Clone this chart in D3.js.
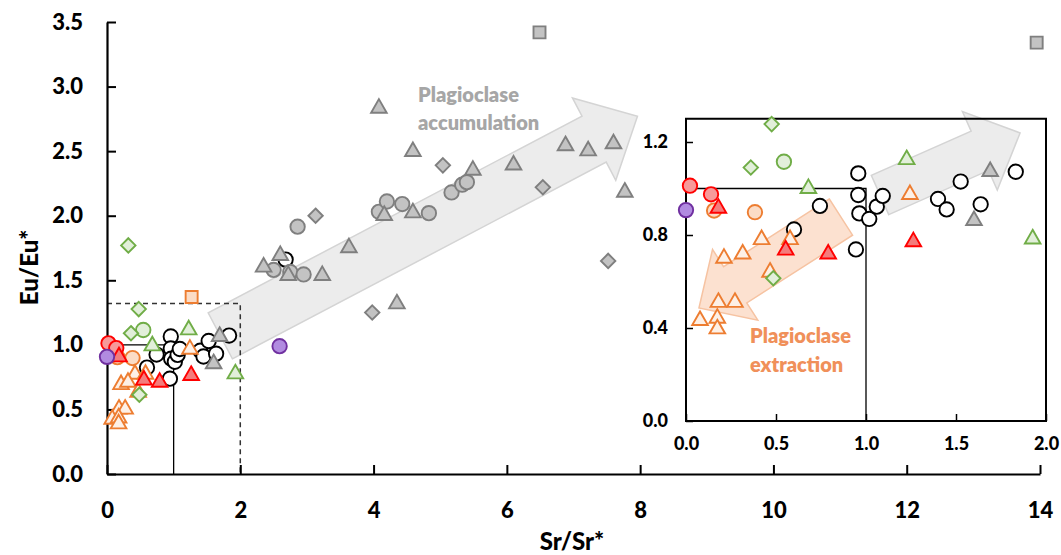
<!DOCTYPE html>
<html>
<head>
<meta charset="utf-8">
<script src="https://cdn.jsdelivr.net/npm/d3@7"></script>
<style>
  body { margin: 0; background: #fff; }
  svg { display: block; }
  text { font-family: Lato, "Open Sans", sans-serif; font-weight: 700; }
</style>
</head>
<body>
<svg id="chart" width="1061" height="555"></svg>
<script>
// ---- Sr/Sr* vs Eu/Eu* samples, one array per marker group: [Sr/Sr*, Eu/Eu*] ----
const grayTriangles = [
  [1.60, 0.872], [1.69, 1.083], [2.35, 1.62], [2.60, 1.71], [2.72, 1.555], [3.23, 1.555],
  [3.63, 1.77], [4.35, 1.335], [4.08, 2.85], [4.16, 2.02], [4.59, 2.04], [4.59, 2.515],
  [5.49, 2.37], [6.10, 2.41], [6.88, 2.56], [7.22, 2.52], [7.60, 2.575], [7.77, 2.20]
];
const grayCircles = [
  [2.50, 1.58], [2.75, 1.565], [2.95, 1.545], [2.86, 1.915], [4.08, 2.03], [4.20, 2.11],
  [4.43, 2.09], [4.83, 2.02], [5.17, 2.18], [5.33, 2.24], [5.40, 2.26]
];
const grayDiamonds = [[3.13, 2.0], [3.98, 1.25], [5.04, 2.39], [6.54, 2.22], [7.52, 1.65]];
const graySquares = [[6.49, 3.42], [13.95, 3.34]];
const blackCircles = [
  [0.60, 0.824], [0.744, 0.925], [0.944, 0.738], [0.957, 1.065], [0.957, 0.972], [0.963, 0.893],
  [1.018, 0.869], [1.06, 0.922], [1.093, 0.968], [1.40, 0.955], [1.448, 0.91], [1.526, 1.03],
  [1.637, 0.932], [1.832, 1.072], [2.68, 1.66]
];
const orangeTriangles = [
  [1.244, 0.984], [0.42, 0.79], [0.578, 0.79], [0.211, 0.71], [0.315, 0.728], [0.467, 0.65],
  [0.18, 0.52], [0.272, 0.52], [0.078, 0.442], [0.174, 0.452], [0.174, 0.406]
];
const orangeCircles = [[0.156, 0.905], [0.383, 0.898]];
const orangeSquares = [[1.27, 1.37]];
const greenTriangles = [[0.68, 1.01], [1.226, 1.134], [1.926, 0.793]];
const greenDiamonds = [[0.476, 1.277], [0.36, 1.09], [0.485, 0.614], [0.32, 1.77]];
const greenCircles = [[0.544, 1.115]];
const redTriangles = [[0.18, 0.925], [0.554, 0.745], [0.79, 0.728], [1.263, 0.781]];
const redCircles = [[0.022, 1.012], [0.139, 0.975]];
const purpleCircles = [[0.0, 0.907], [2.59, 0.99]];

// axis ticks
const mainXTicks = [0, 2, 4, 6, 8, 10, 12, 14];
const mainYTicks = [0.0, 0.5, 1.0, 1.5, 2.0, 2.5, 3.0, 3.5];
const insetXTicks = [0.0, 0.5, 1.0, 1.5, 2.0];
const insetYTicks = [0.0, 0.4, 0.8, 1.2];

// marker groups in drawing order
const GRAY = { fill: "#c3c3c3", stroke: "#7f7f7f" };
const series = [
  { data: blackCircles, shape: "circle", fill: "#ffffff", stroke: "#000000" },
  { data: grayCircles, shape: "circle", ...GRAY },
  { data: grayDiamonds, shape: "diamond", ...GRAY },
  { data: graySquares, shape: "square", ...GRAY },
  { data: grayTriangles, shape: "triangle", ...GRAY },
  { data: orangeCircles, shape: "circle", fill: "#fbdcc6", stroke: "#ed7d31" },
  { data: orangeSquares, shape: "square", fill: "#fbdcc6", stroke: "#ed7d31" },
  { data: orangeTriangles, shape: "triangle", fill: "#fdf0e6", stroke: "#ed7d31" },
  { data: greenCircles, shape: "circle", fill: "#e2efda", stroke: "#70ad47" },
  { data: greenDiamonds, shape: "diamond", fill: "#e2efda", stroke: "#70ad47" },
  { data: greenTriangles, shape: "triangle", fill: "#e2efda", stroke: "#70ad47" },
  { data: redCircles, shape: "circle", fill: "#f79a9a", stroke: "#ff0000" },
  { data: redTriangles, shape: "triangle", fill: "#f47c7c", stroke: "#ff0000" },
  { data: purpleCircles, shape: "circle", fill: "#b18be0", stroke: "#7030a0" }
];

const svg = d3.select("#chart");

// ---- scales ----
const x = d3.scaleLinear().domain([0, 14]).range([107, 1040]);
const y = d3.scaleLinear().domain([0, 3.5]).range([474, 22]);
const xi = d3.scaleLinear().domain([0, 2]).range([686, 1046]);
const yi = d3.scaleLinear().domain([0, 1.3]).range([421, 118.75]);

// marker path centred on (0,0)
function markerPath(shape) {
  switch (shape) {
    case "circle": return "M7.2,0A7.2,7.2 0 1,1 -7.2,0A7.2,7.2 0 1,1 7.2,0Z";
    case "triangle": return "M0,-6.8L7.8,6.8L-7.8,6.8Z";
    case "diamond": return "M0,-7.2L7.2,0L0,7.2L-7.2,0Z";
    case "square": return "M-6,-6H6V6H-6Z";
  }
}

// block arrow polygon from tail centre to tip (pixel space)
function blockArrow(x0, y0, x1, y1, shaftW, headW, headL) {
  const dx = x1 - x0, dy = y1 - y0, L = Math.hypot(dx, dy);
  const ux = dx / L, uy = dy / L, nx = -uy, ny = ux;
  const bx = x1 - ux * headL, by = y1 - uy * headL;
  const p = [
    [x0 + nx * shaftW / 2, y0 + ny * shaftW / 2],
    [bx + nx * shaftW / 2, by + ny * shaftW / 2],
    [bx + nx * headW / 2, by + ny * headW / 2],
    [x1, y1],
    [bx - nx * headW / 2, by - ny * headW / 2],
    [bx - nx * shaftW / 2, by - ny * shaftW / 2],
    [x0 - nx * shaftW / 2, y0 - ny * shaftW / 2]
  ];
  return "M" + p.map(d => d.join(",")).join("L") + "Z";
}

function drawPoints(g, sx, sy, filter) {
  series.forEach(s => {
    g.selectAll(null)
      .data(s.data.filter(filter))
      .join("path")
      .attr("d", markerPath(s.shape))
      .attr("transform", d => `translate(${sx(d[0])},${sy(d[1])})`)
      .attr("fill", s.fill)
      .attr("stroke", s.stroke)
      .attr("stroke-width", 1.9);
  });
}

function styleTicks(a, size) {
  a.selectAll(".tick text")
    .attr("fill", "#000")
    .style("font-size", size + "px")
    .style("font-family", "Lato, sans-serif")
    .style("font-weight", 900);
}

// ---- main panel ----
const main = svg.append("g");

// accumulation trend arrow
main.append("path")
  .attr("d", blockArrow(x(1.70), y(1.07), x(7.96), y(2.77), 52, 93, 49))
  .attr("fill", "#ececec")
  .attr("stroke", "#d4d4d4")
  .attr("stroke-width", 1.5);

// unity reference lines
main.append("path")
  .attr("d", `M${x(0)},${y(1)}H${x(1)}V${y(0)}`)
  .attr("fill", "none").attr("stroke", "#000").attr("stroke-width", 1.3);
// outline of the enlarged region
main.append("path")
  .attr("d", `M${x(0)},${y(1.32)}H${x(2)}V${y(0)}`)
  .attr("fill", "none").attr("stroke", "#333").attr("stroke-width", 1.5)
  .attr("stroke-dasharray", "5,4");

// axes with inward ticks
const xAxis = main.append("g").attr("transform", `translate(0,${y(0)})`)
  .call(d3.axisBottom(x).tickValues(mainXTicks).tickSizeInner(-9).tickSizeOuter(0).tickPadding(28).tickFormat(d3.format("d")));
const yAxis = main.append("g").attr("transform", `translate(${x(0)},0)`)
  .call(d3.axisLeft(y).tickValues(mainYTicks).tickSizeInner(-9).tickSizeOuter(0).tickPadding(24).tickFormat(d3.format(".1f")));
[xAxis, yAxis].forEach(a => {
  a.select(".domain").attr("stroke", "#000").attr("stroke-width", 2.2);
  a.selectAll(".tick line").attr("stroke", "#000").attr("stroke-width", 2);
  styleTicks(a, 22);
});

drawPoints(main, x, y, () => true);

main.append("text")
  .attr("x", 418).attr("y", 102)
  .attr("fill", "#a6a6a6").style("font-size", "20px").style("font-weight", 800)
  .text("Plagioclase");
main.append("text")
  .attr("x", 418).attr("y", 130)
  .attr("fill", "#a6a6a6").style("font-size", "20px").style("font-weight", 800)
  .text("accumulation");

// axis titles
svg.append("text")
  .attr("transform", `translate(38,${y(1.6)}) rotate(-90)`)
  .attr("text-anchor", "middle").style("font-size", "24px").style("font-weight", 900).attr("fill", "#000")
  .text("Eu/Eu*");
svg.append("text")
  .attr("x", 572).attr("y", 550)
  .attr("text-anchor", "middle").style("font-size", "24px").style("font-weight", 900).attr("fill", "#000")
  .text("Sr/Sr*");

// ---- inset panel (enlarged 0–2 × 0–1.3 region) ----
const inset = svg.append("g");
inset.append("rect")
  .attr("x", xi(0)).attr("y", yi(1.3))
  .attr("width", xi(2) - xi(0)).attr("height", yi(0) - yi(1.3))
  .attr("fill", "#fff");

inset.append("path")
  .attr("d", blockArrow(xi(1.078), yi(0.972), xi(1.856), yi(1.239), 43, 86, 44))
  .attr("fill", "#ececec").attr("stroke", "#d4d4d4").attr("stroke-width", 1.5);
inset.append("path")
  .attr("d", blockArrow(xi(0.861), yi(0.877), xi(0.072), yi(0.486), 43, 84, 43))
  .attr("fill", "#fbdcc8").attr("fill-opacity", 0.85)
  .attr("stroke", "#f6c3a2").attr("stroke-width", 1.5);

inset.append("path")
  .attr("d", `M${xi(0)},${yi(1)}H${xi(1)}V${yi(0)}`)
  .attr("fill", "none").attr("stroke", "#000").attr("stroke-width", 1.3);

const xiAxis = inset.append("g").attr("transform", `translate(0,${yi(0)})`)
  .call(d3.axisBottom(xi).tickValues(insetXTicks).tickSizeInner(-7).tickSizeOuter(0).tickPadding(16).tickFormat(d3.format(".1f")));
const yiAxis = inset.append("g").attr("transform", `translate(${xi(0)},0)`)
  .call(d3.axisLeft(yi).tickValues(insetYTicks).tickSizeInner(-7).tickSizeOuter(0).tickPadding(18).tickFormat(d3.format(".1f")));
[xiAxis, yiAxis].forEach(a => {
  a.select(".domain").remove();
  a.selectAll(".tick line").attr("stroke", "#000").attr("stroke-width", 1.5);
  styleTicks(a, 18);
});
inset.append("rect")
  .attr("x", xi(0)).attr("y", yi(1.3))
  .attr("width", xi(2) - xi(0)).attr("height", yi(0) - yi(1.3))
  .attr("fill", "none").attr("stroke", "#000").attr("stroke-width", 2);

drawPoints(inset, xi, yi, d => d[0] <= 2.02 && d[1] <= 1.3);

inset.append("text")
  .attr("x", 750).attr("y", 343)
  .attr("fill", "#f0905a").style("font-size", "20px").style("font-weight", 800)
  .text("Plagioclase");
inset.append("text")
  .attr("x", 750).attr("y", 372)
  .attr("fill", "#f0905a").style("font-size", "20px").style("font-weight", 800)
  .text("extraction");
</script>
</body>
</html>
